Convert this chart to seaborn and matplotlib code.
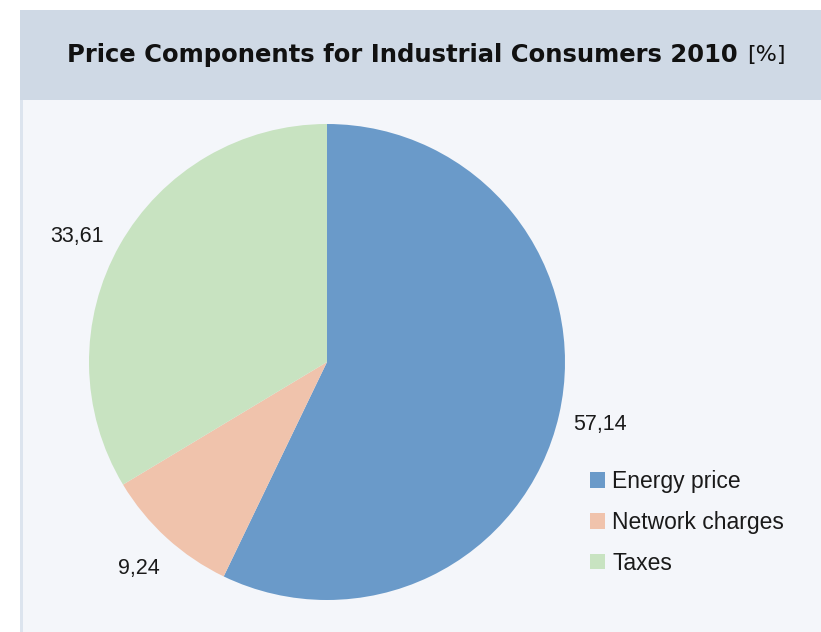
import matplotlib
matplotlib.use("Agg")
import numpy as np
import matplotlib.pyplot as plt
from matplotlib.patches import Rectangle
import seaborn as sns

categories = ["Energy price", "Network charges", "Taxes"]
values = [57.14, 9.24, 33.61]
value_labels = ["57,14", "9,24", "33,61"]
colors = ["#6a9ac9", "#f0c3ac", "#c8e3c1"]
title_main = "Price Components for Industrial Consumers 2010"
title_unit = "[%]"

sns.set_theme(style="white")
plt.rcParams["font.family"] = ["Liberation Sans", "DejaVu Sans"]

W, H = 821, 632
fig = plt.figure(figsize=(W / 100, H / 100), dpi=100)
fig.patch.set_facecolor("white")

def px_rect(x0, y0, x1, y1, color):
    fig.patches.append(Rectangle((x0 / W, 1 - y1 / H), (x1 - x0) / W, (y1 - y0) / H,
                                 transform=fig.transFigure, facecolor=color,
                                 edgecolor="none", zorder=-5))

px_rect(20, 10, W, 100, "#cfd9e5")
px_rect(20, 100, W, H, "#f4f6fa")
px_rect(20, 100, 23, H, "#dce4ee")

cx, cy, R, half = 327, 362, 238, 250
ax = fig.add_axes([(cx - half) / W, (H - cy - half) / H, 2 * half / W, 2 * half / H])
ax.set_facecolor("none")
ax.set_zorder(1)
wedges, texts = ax.pie(values, colors=colors, startangle=90, counterclock=False,
                       labels=value_labels, labeldistance=1.18,
                       wedgeprops=dict(linewidth=0),
                       textprops=dict(fontsize=15.5, color="#1a1a1a"))
# small angular nudge of label placement (degrees), layout only
nudges = [0.0, 0.0, 2.8]
for w, t, d in zip(wedges, texts, nudges):
    ang = np.deg2rad((w.theta1 + w.theta2) / 2 + d)
    t.set_position((1.175 * np.cos(ang), 1.175 * np.sin(ang)))
    t.set_ha("center")
    t.set_va("center")
lim = half / R
ax.set_xlim(-lim, lim)
ax.set_ylim(-lim, lim)
ax.set_aspect("equal")
ax.axis("off")

leg = fig.legend(wedges, categories, loc="upper left",
                 bbox_to_anchor=(590 / W, 1 - 470 / H), frameon=False,
                 fontsize=16.5, handlelength=0.66, handleheight=0.66,
                 handletextpad=0.3, labelspacing=0.78, borderpad=0,
                 borderaxespad=0)
leg.set_zorder(2)
for txt in leg.get_texts():
    txt.set_color("#1a1a1a")

fig.text(738 / W, 1 - 55 / H, title_main, ha="right", va="center",
         fontsize=17.5, fontweight="bold", family=["DejaVu Sans"],
         color="#111111")
fig.text(747 / W, 1 - 55 / H, title_unit, ha="left", va="center",
         fontsize=16, color="#111111", family=["DejaVu Sans"])

fig.savefig("out.png", dpi=100, facecolor="white")
